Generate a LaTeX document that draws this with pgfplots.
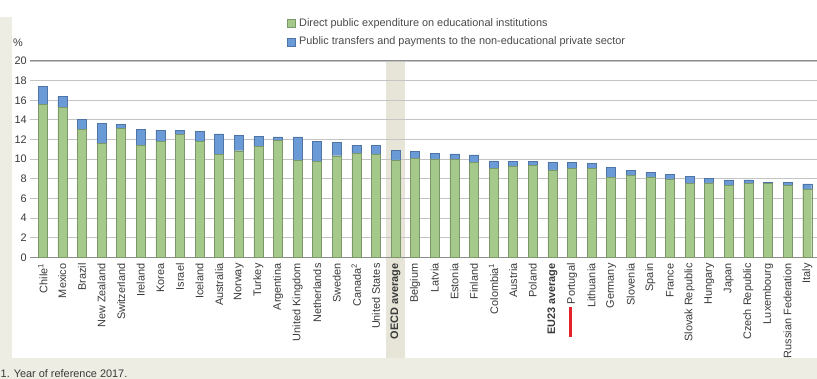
\documentclass[border=0pt]{standalone}
\usepackage{pgfplots}
\pgfplotsset{compat=1.18}
\usepackage{pgfplotstable}
\usepackage{fontspec}
\setmainfont{Liberation Sans}
\definecolor{gfill}{HTML}{A5C98A}
\definecolor{gdraw}{HTML}{7D9868}
\definecolor{bfill}{HTML}{6B9BD6}
\definecolor{bdraw}{HTML}{4F74A6}
\definecolor{beige}{HTML}{EEEDE3}
\definecolor{bandc}{HTML}{E7E5D7}
\definecolor{gridc}{HTML}{C4C4C4}
\definecolor{axc}{HTML}{8C8C8C}
\definecolor{txt}{HTML}{3A3A3A}
\definecolor{legtxt}{HTML}{4A4A4A}
\definecolor{redmark}{HTML}{E3232B}
\pgfplotstableread{
i direct transfers
0 15.60 1.80
1 15.30 1.10
2 13.00 1.05
3 11.60 2.05
4 13.15 0.37
5 11.43 1.59
6 11.79 1.16
7 12.50 0.45
8 11.80 1.02
9 10.47 2.10
10 10.86 1.54
11 11.28 1.02
12 11.92 0.35
13 9.92 2.34
14 9.75 2.05
15 10.35 1.38
16 10.58 0.84
17 10.52 0.90
18 9.93 0.95
19 10.05 0.72
20 10.02 0.58
21 9.99 0.54
22 9.65 0.78
23 9.07 0.75
24 9.24 0.55
25 9.34 0.45
26 8.90 0.78
27 9.03 0.62
28 9.07 0.51
29 8.12 1.05
30 8.32 0.51
31 8.19 0.44
32 7.98 0.44
33 7.50 0.72
34 7.57 0.44
35 7.30 0.58
36 7.54 0.34
37 7.50 0.17
38 7.34 0.27
39 6.89 0.58
}\datatable
\begin{document}
\begin{tikzpicture}[font=\fontsize{10.9}{12.5}\selectfont]
\fill[beige] (0,0) rectangle (817pt,362pt);
\fill[white] (12pt,21pt) rectangle (817pt,362pt);
\fill[bandc] (386.4pt,21pt) rectangle (404.8pt,318pt);
\node[anchor=base west, text=txt, inner sep=0pt] at (0.5pt,1.8pt) {1. Year of reference 2017.};
\node[anchor=west, text=txt, inner sep=0pt] at (13pt,336.5pt) {\%};
\begin{axis}[
  at={(30pt,121.7pt)}, anchor=south west,
  width=787pt, height=196.3pt, scale only axis,
  xmin=-0.65, xmax=39.5, ymin=0, ymax=20,
  ybar stacked, bar width=9pt,
  clip=false,
  axis line style={draw=none},
  ytick={0,2,...,20}, ymajorgrids,
  grid style={gridc, line width=0.8pt},
  major tick length=0pt,
  xtick={0,...,39},
  xticklabels={Chile\textsuperscript{1}, Mexico, Brazil, New Zealand, Switzerland, Ireland, Korea, Israel, Iceland, Australia, Norway, Turkey, Argentina, United Kingdom, Netherlands, Sweden, Canada\textsuperscript{2}, United States, \textbf{OECD average}, Belgium, Latvia, Estonia, Finland, Colombia\textsuperscript{1}, Austria, Poland, \textbf{EU23 average}, Portugal, Lithuania, Germany, Slovenia, Spain, France, Slovak Republic, Hungary, Japan, Czech Republic, Luxembourg, Russian Federation, Italy},
  xticklabel style={rotate=90, anchor=east, inner sep=0pt, text=txt},
  xticklabel shift=6pt,
  yticklabel style={text=txt, anchor=east, inner sep=0pt},
  yticklabel shift=3pt,
  /pgf/number format/assume math mode=true,
  legend style={at={(axis description cs:0.3266,1.2267)}, anchor=north west, draw=none, fill=none, text=legtxt, inner sep=0pt, row sep=6.5pt, nodes={inner sep=1.5pt}, /tikz/every odd column/.append style={column sep=2pt}},
  legend cell align=left,
  legend image code/.code={\draw[#1] (0pt,-4pt) rectangle (8pt,4pt);},
]
\addplot[fill=gfill, draw=gdraw, line width=0.4pt] table[x=i,y=direct]{\datatable};
\addplot[fill=bfill, draw=bdraw, line width=0.4pt] table[x=i,y=transfers]{\datatable};
\legend{Direct public expenditure on educational institutions, Public transfers and payments to the non-educational private sector}
\draw[axc, line width=1pt] (axis cs:-0.65,20) -- (axis cs:39.5,20);
\draw[axc, line width=1pt] (axis cs:-0.65,0) -- (axis cs:39.5,0);
\draw[redmark, line width=3pt] (axis cs:26.92,-5.1) -- (axis cs:26.92,-8.1);
\end{axis}
\pgfresetboundingbox
\path[use as bounding box] (0,0) rectangle (817pt,379pt);
\end{tikzpicture}
\end{document}
